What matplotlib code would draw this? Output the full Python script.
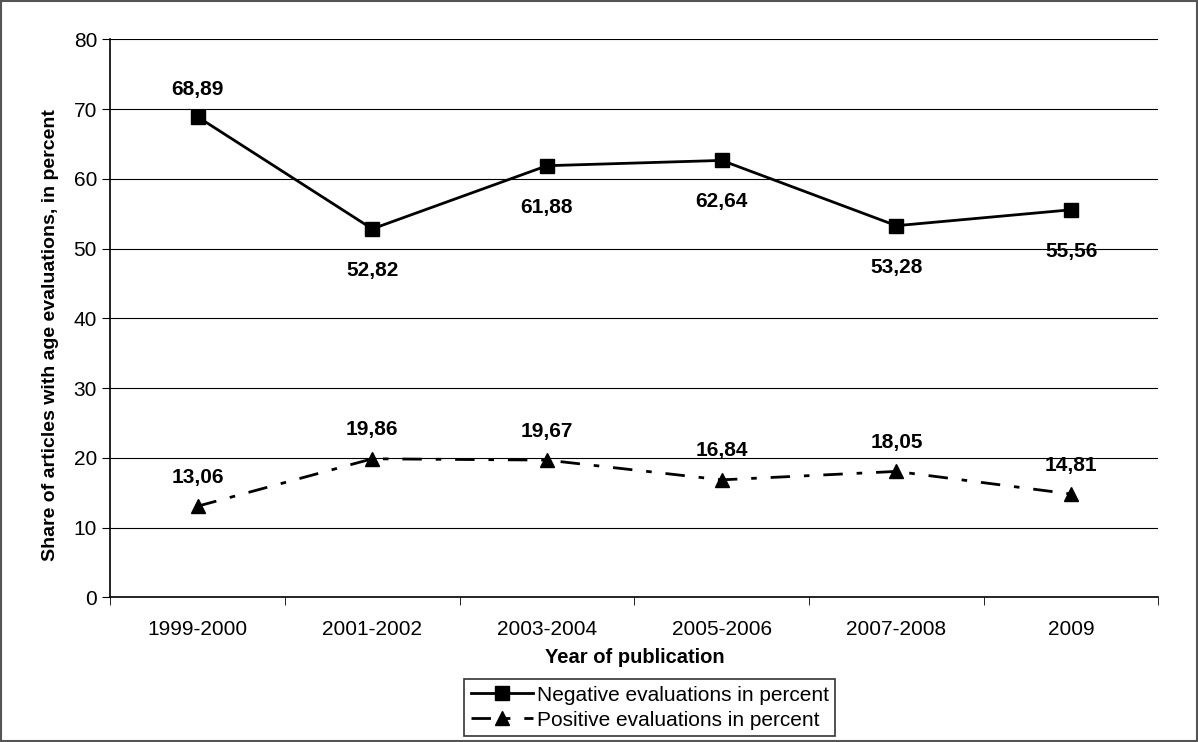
import matplotlib.pyplot as plt
from matplotlib.patches import Rectangle

plt.rcParams['font.family'] = ['Liberation Sans', 'DejaVu Sans']

years = ["1999-2000", "2001-2002", "2003-2004", "2005-2006", "2007-2008", "2009"]
negative = [68.89, 52.82, 61.88, 62.64, 53.28, 55.56]
positive = [13.06, 19.86, 19.67, 16.84, 18.05, 14.81]
neg_label_above = [True, False, False, False, False, False]


def fmt(v):
    return ("%.2f" % v).replace(".", ",")


def main():
    fig = plt.figure(figsize=(11.98, 7.42), dpi=100)
    ax = fig.add_axes([0.092, 0.195, 0.875, 0.752])
    x = list(range(len(years)))

    ax.plot(x, negative, color="black", lw=2, marker="s", ms=9.5,
            label="Negative evaluations in percent")
    ax.plot(x, positive, color="black", lw=2, marker="^", ms=10.5,
            dashes=(7, 5, 2, 5), label="Positive evaluations in percent")

    for i, v in enumerate(negative):
        if neg_label_above[i]:
            ax.annotate(fmt(v), (i, v), xytext=(0, 13), textcoords="offset points",
                        ha="center", va="bottom", fontsize=15, fontweight="bold")
        else:
            ax.annotate(fmt(v), (i, v), xytext=(0, -23), textcoords="offset points",
                        ha="center", va="top", fontsize=15, fontweight="bold")
    for i, v in enumerate(positive):
        ax.annotate(fmt(v), (i, v), xytext=(0, 14), textcoords="offset points",
                    ha="center", va="bottom", fontsize=15, fontweight="bold")

    ax.set_xlim(-0.5, len(years) - 0.5)
    ax.set_ylim(0, 80)
    ax.set_yticks(range(0, 81, 10))
    ax.yaxis.grid(True, color="black", lw=0.8)
    ax.set_axisbelow(True)
    ax.set_xticks(x)
    ax.set_xticklabels(years, fontsize=15)
    ax.set_xticks([i - 0.5 for i in range(len(years) + 1)], minor=True)
    ax.tick_params(axis="x", which="major", length=0, pad=16)
    ax.tick_params(axis="x", which="minor", length=6, direction="out")
    ax.tick_params(axis="y", labelsize=15, length=6, direction="out")
    for s in ["top", "right"]:
        ax.spines[s].set_visible(False)
    ax.spines["left"].set_linewidth(1.2)
    ax.spines["bottom"].set_linewidth(1.2)

    ax.set_xlabel("Year of publication", fontsize=14.5, fontweight="bold", labelpad=7)
    ax.set_ylabel("Share of articles with age evaluations, in percent",
                  fontsize=14, fontweight="bold")
    ax.yaxis.set_label_coords(-0.049, 0.47)

    leg = fig.legend(loc="lower center", bbox_to_anchor=(0.5425, -0.006), fontsize=15,
                     frameon=True, fancybox=False, edgecolor="black",
                     handlelength=3.0, borderpad=0.3, labelspacing=0.3, handletextpad=0.2)
    leg.get_frame().set_linewidth(1.2)

    fig.patches.append(Rectangle((0.001, 0.001), 0.998, 0.998, transform=fig.transFigure,
                                 fill=False, edgecolor="#555555", lw=1.5))

    plt.savefig("out.png", dpi=100)
    plt.close()


if __name__ == '__main__':
    main()
